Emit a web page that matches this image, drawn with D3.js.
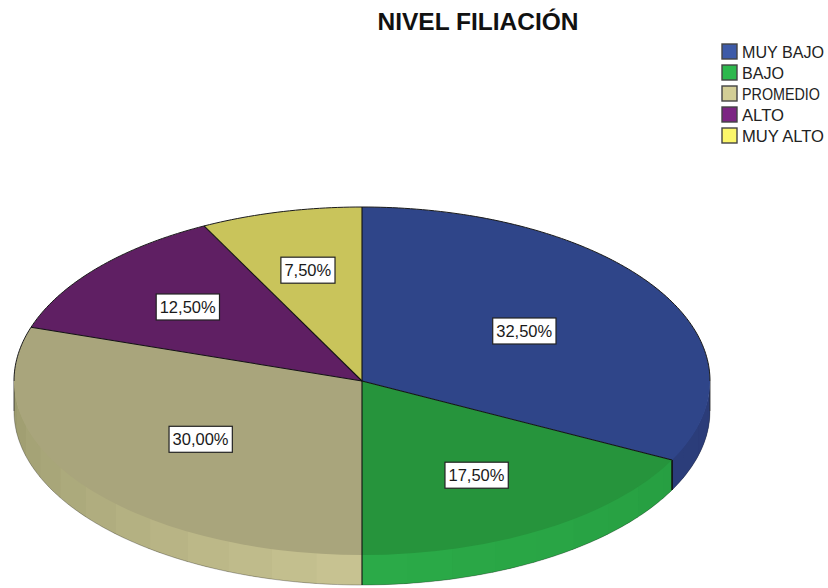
<!DOCTYPE html>
<html>
<head>
<meta charset="utf-8">
<script src="https://cdn.jsdelivr.net/npm/d3@7"></script>
<style>
  html, body { margin: 0; background: #fff; }
  svg { display: block; font-family: "Liberation Sans", Arial, sans-serif; }
</style>
</head>
<body>
<svg id="chart" width="828" height="588"></svg>
<script>
const chartTitle = "NIVEL FILIACIÓN";
const categories = ["MUY BAJO", "BAJO", "PROMEDIO", "ALTO", "MUY ALTO"];
const percentages = [32.5, 17.5, 30, 12.5, 7.5];

// Colours: legend swatch, top face, and the side wall near/far from the viewer
const swatchColors = ["#3d5aa8", "#2db84d", "#d3ce96", "#7c2583", "#fbf66a"];
const topColors = ["#2f4589", "#26943c", "#a9a57c", "#5f1f63", "#c9c45b"];
const wallNear = ["#2c3f80", "#2bab48", "#c9c492", "#5f1f63", "#c9c45b"];
const wallFar = ["#2b3c78", "#259a3f", "#9b9a6e", "#5f1f63", "#c9c45b"];

// How far out along each slice's radius its label sits
const labelRadiusShare = [0.55, 0.635, 0.57, 0.655, 0.655];
// Set widths of the legend entries
const legendTextWidths = [82, 42, 78, 42, 82];

const cx = 362, cy = 381, rx = 348, ry = 174, depth = 30, facetStep = Math.PI / 24;

const svg = d3.select("#chart");

const pie = d3.pie().sort(null).value(d => d).startAngle(0).endAngle(2 * Math.PI);
const slices = pie(percentages);

const px = a => cx + rx * Math.sin(a);
const py = a => cy - ry * Math.cos(a);
const line = d3.line();

// Side wall: only the front half of the disc shows, drawn as a continuous
// base colour with faint shaded facets laid on top
const wall = svg.append("g");
slices.forEach((s, i) => {
  const from = Math.max(s.startAngle, Math.PI / 2);
  const to = Math.min(s.endAngle, 3 * Math.PI / 2);
  if (to <= from) return;
  const shade = d3.interpolateRgb(wallNear[i], wallFar[i]);
  const band = (a, b) => {
    const samples = d3.range(0, 1.0001, 0.1).map(t => a + (b - a) * t);
    const upper = samples.map(t => [px(t), py(t) - 1]);
    const lower = samples.slice().reverse().map(t => [px(t), py(t) + depth]);
    return line(upper.concat(lower)) + "Z";
  };
  wall.append("path").attr("d", band(from, to)).attr("fill", shade(0.5));
  const first = Math.floor(from / facetStep) * facetStep;
  d3.range(first, to, facetStep).forEach(a0 => {
    const a = Math.max(a0, from), b = Math.min(a0 + facetStep, to);
    const far = Math.min(1, Math.abs((a + b) / 2 - Math.PI) / (Math.PI / 2));
    wall.append("path")
      .attr("d", band(a, Math.min(b + 0.01, to)))
      .attr("fill", shade(far));
  });
});

// Lower silhouette of the wall
const rim = d3.range(Math.PI / 2, 3 * Math.PI / 2 + 0.001, Math.PI / 180);
svg.append("path")
  .attr("d", line(rim.map(a => [px(a), py(a) + depth])))
  .attr("fill", "none").attr("stroke", "#222").attr("stroke-opacity", 0.4).attr("stroke-width", 0.8);
[Math.PI / 2, 3 * Math.PI / 2].forEach(a => {
  svg.append("line")
    .attr("x1", px(a)).attr("x2", px(a))
    .attr("y1", py(a)).attr("y2", py(a) + depth)
    .attr("stroke", "#222").attr("stroke-width", 0.8);
});

// Vertical edges where one slice's wall meets the next
slices.forEach(s => {
  const a = s.endAngle;
  if (a > Math.PI / 2 && a < 3 * Math.PI / 2) {
    svg.append("line")
      .attr("x1", px(a)).attr("x2", px(a))
      .attr("y1", py(a)).attr("y2", py(a) + depth)
      .attr("stroke", "#111").attr("stroke-width", a < Math.PI * 0.9 ? 1.6 : 1.1);
  }
});

// Top face: a circular arc generator flattened into an ellipse
const arc = d3.arc().innerRadius(0).outerRadius(rx);
const topFace = svg.append("g").attr("transform", `translate(${cx},${cy}) scale(1,${ry / rx})`);
topFace.selectAll("path").data(slices).join("path")
  .attr("d", arc)
  .attr("fill", (d, i) => topColors[i]);

// Upper rim and the radial dividers, kept crisp over the flattened face
const backRim = d3.range(-Math.PI / 2, Math.PI / 2 + 0.001, Math.PI / 180);
svg.append("path")
  .attr("d", line(backRim.map(a => [px(a), py(a)])))
  .attr("fill", "none").attr("stroke", "#1a1a1a").attr("stroke-width", 1);
svg.selectAll("line.divider").data(slices).join("line")
  .attr("class", "divider")
  .attr("x1", cx).attr("y1", cy)
  .attr("x2", d => px(d.startAngle)).attr("y2", d => py(d.startAngle))
  .attr("stroke", "#111").attr("stroke-width", 1.1);

// Boxed percentage labels
const fmt = v => v.toFixed(2).replace(".", ",") + "%";
const labels = svg.append("g").selectAll("g").data(slices).join("g")
  .attr("transform", (d, i) => {
    const m = (d.startAngle + d.endAngle) / 2, f = labelRadiusShare[i];
    return `translate(${cx - 1 + rx * f * Math.sin(m)},${cy - ry * f * Math.cos(m)})`;
  });
labels.append("text")
  .attr("text-anchor", "middle").attr("dy", "0.36em")
  .attr("font-size", 16.5).attr("fill", "#1a1a1a")
  .text(d => fmt(d.data));
labels.each(function () {
  const g = d3.select(this);
  const b = g.select("text").node().getBBox();
  g.insert("rect", "text")
    .attr("x", b.x - 3.5).attr("y", -13)
    .attr("width", b.width + 7).attr("height", 26)
    .attr("fill", "#fff").attr("stroke", "#222").attr("stroke-width", 1.2);
});

// Title
svg.append("text")
  .attr("x", 478).attr("y", 30)
  .attr("text-anchor", "middle")
  .attr("font-size", 24.5).attr("font-weight", "bold").attr("fill", "#111")
  .text(chartTitle);

// Legend
const rowY = d3.scaleBand().domain(categories).range([41, 146]);
const legend = svg.append("g").selectAll("g").data(categories).join("g")
  .attr("transform", d => `translate(722,${rowY(d) + rowY.bandwidth() / 2})`);
legend.append("rect")
  .attr("x", 0).attr("y", -7.5).attr("width", 15).attr("height", 15)
  .attr("fill", (d, i) => swatchColors[i])
  .attr("stroke", "#444").attr("stroke-width", 1.4);
legend.append("text")
  .attr("x", 20).attr("dy", "0.42em")
  .attr("font-size", 16).attr("fill", "#222")
  .attr("textLength", (d, i) => legendTextWidths[i])
  .attr("lengthAdjust", "spacingAndGlyphs")
  .text(d => d);
</script>
</body>
</html>
